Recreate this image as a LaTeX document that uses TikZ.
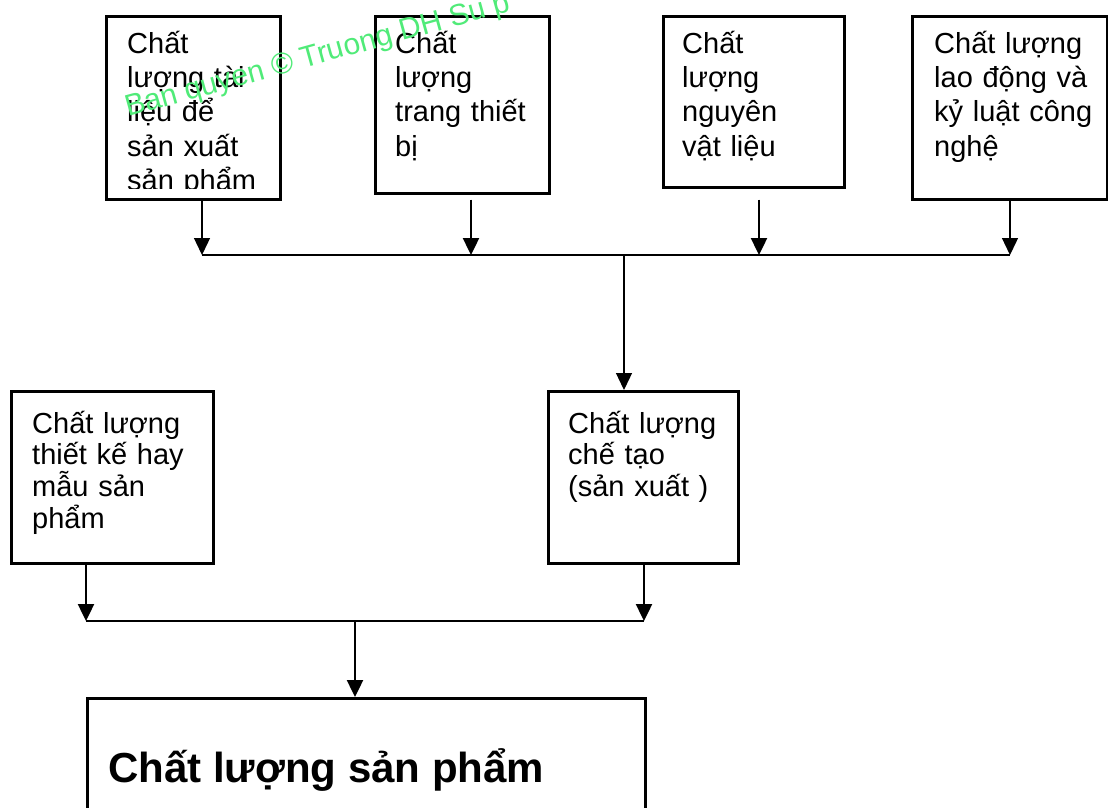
\documentclass[tikz,border=0pt]{standalone}
\usepackage{fontspec}
\setmainfont{Liberation Sans}
\usetikzlibrary{arrows.meta}
\definecolor{wmgreen}{RGB}{80,235,120}
\tikzset{
  box/.style={draw, line width=2.6pt, anchor=north west, inner sep=0pt},
  lbltop/.style={anchor=base west, inner sep=0pt, text width=172pt, align=left,
    font=\fontsize{29}{34.4}\selectfont},
  lbllow/.style={anchor=base west, inner sep=0pt, text width=172pt, align=left,
    font=\fontsize{29}{31.8}\selectfont},
  arr/.style={-{Triangle[width=16pt,length=17pt]}},
  thinarr/.style={arr, line width=1.3pt},
  thickarr/.style={arr, line width=2.4pt},
  bus/.style={line width=2.6pt},
  wm/.style={text=wmgreen, anchor=base west, inner sep=0pt, font=\fontsize{30}{32}\selectfont},
}
\begin{document}
\begin{tikzpicture}[x=1pt, y=-1pt]
\useasboundingbox (0,0) rectangle (1108,807);
\clip (0,0) rectangle (1108,807);
\fill[white] (0,0) rectangle (1108,807);

% top boxes
\node[box, minimum width=174pt, minimum height=183pt] (b1) at (105,15) {};
\node[box, minimum width=174pt, minimum height=177pt] (b2) at (374,15) {};
\node[box, minimum width=181pt, minimum height=171pt] (b3) at (662,15) {};
\node[box, minimum width=195pt, minimum height=183pt] (b4) at (911,15) {};

\begin{scope}
  \clip (105,15) rectangle (279,188);
  \node[lbltop] (t1) at (127,53) {Chất\\lượng tài\\liệu để\\sản xuất\\sản phẩm};
\end{scope}
\node[lbltop] (t2) at (395,53) {Chất\\lượng\\trang thiết\\bị};
\node[lbltop] (t3) at (682,53) {Chất\\lượng\\nguyên\\vật liệu};
\node[lbltop] (t4) at (934,53) {Chất lượng\\lao động và\\kỷ luật công\\nghệ};

% upper bus
\coordinate (j1) at (202,255);
\coordinate (j2) at (471,255);
\coordinate (j3) at (759,255);
\coordinate (j4) at (1010,255);
\coordinate (jm) at (624,255);

\draw[thinarr] (b1.south -| j1) -- (j1);
\draw[thickarr] ([yshift=-5pt]b2.south -| j2) -- (j2);
\draw[thickarr] ([yshift=-11pt]b3.south -| j3) -- (j3);
\draw[thinarr] (b4.south -| j4) -- (j4);
\draw[bus] (j1) -- (j4);

% middle boxes
\node[box, minimum width=202pt, minimum height=172pt] (c1) at (10,390) {};
\node[box, minimum width=190pt, minimum height=172pt] (c2) at (547,390) {};
\node[lbllow] (tc1) at (32,433) {Chất lượng\\thiết kế hay\\mẫu sản\\phẩm};
\node[lbllow] (tc2) at (568,433) {Chất lượng\\chế tạo\\(sản xuất )};

\draw[thinarr] (jm) -- (c2.north -| jm);

% lower bus
\coordinate (k1) at (86,621);
\coordinate (k2) at (644,621);
\coordinate (km) at (355,621);
\draw[thickarr] (c1.south -| k1) -- (k1);
\draw[thickarr] (c2.south -| k2) -- (k2);
\draw[bus] (k1) -- (k2);

% product box
\node[box, minimum width=558pt, minimum height=140pt] (p) at (86,697) {};
\node[anchor=base west, inner sep=0pt, font=\fontsize{42}{48}\selectfont\bfseries] (tp) at (108,782) {Chất lượng sản phẩm};
\draw[thickarr] (km) -- (p.north -| km);

% watermark
\node[wm, rotate=15.5] (w) at (128,117) {Ban quyen © Truong DH Su p};
\end{tikzpicture}
\end{document}
